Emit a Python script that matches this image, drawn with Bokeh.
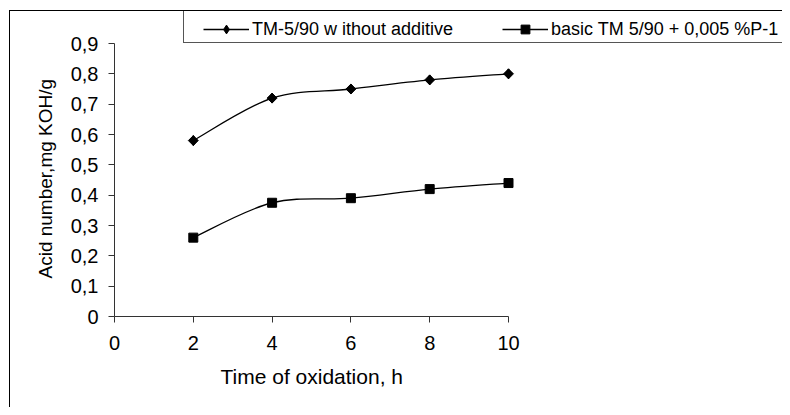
from bokeh.plotting import figure
from bokeh.models import (FixedTicker, CustomJSTickFormatter, Legend, LegendItem,
                          ColumnDataSource, Range1d, Title)
from bokeh.embed import file_html
from bokeh.resources import INLINE

# ---- data ----
hours = [2, 4, 6, 8, 10]
without_additive = [0.58, 0.72, 0.75, 0.78, 0.80]
with_p1 = [0.26, 0.375, 0.39, 0.42, 0.44]
series_names = ["TM-5/90 w ithout additive", "basic TM 5/90 + 0,005 %P-1"]
x_ticks = [0, 2, 4, 6, 8, 10]
y_ticks = [0, 0.1, 0.2, 0.3, 0.4, 0.5, 0.6, 0.7, 0.8, 0.9]
y_tick_labels = ["0", "0,1", "0,2", "0,3", "0,4", "0,5", "0,6", "0,7", "0,8", "0,9"]
x_title = "Time of oxidation, h"
y_title = "Acid number,mg KOH/g"

FONT = "Liberation Sans"


def smooth_segments(xs, ys):
    """Bezier control points for a smoothed line through the data points."""
    n = len(xs)
    d = dict(x0=[], y0=[], x1=[], y1=[], cx0=[], cy0=[], cx1=[], cy1=[])
    for i in range(n - 1):
        xp, yp = (xs[i - 1], ys[i - 1]) if i > 0 else (xs[i], ys[i])
        xn, yn = (xs[i + 2], ys[i + 2]) if i + 2 < n else (xs[i + 1], ys[i + 1])
        d["x0"].append(xs[i]); d["y0"].append(ys[i])
        d["x1"].append(xs[i + 1]); d["y1"].append(ys[i + 1])
        d["cx0"].append(xs[i] + (xs[i + 1] - xp) / 6)
        d["cy0"].append(ys[i] + (ys[i + 1] - yp) / 6)
        d["cx1"].append(xs[i + 1] - (xn - xs[i]) / 6)
        d["cy1"].append(ys[i + 1] - (yn - ys[i]) / 6)
    return ColumnDataSource(d)


# ---- layout (pixels) ----
W, H = 782, 407
AX_LEFT, AX_RIGHT, AX_TOP, AX_BOTTOM = 114, 508, 43, 316   # where 0..10 / 0..0.9 land
X_MAX, Y_MAX = x_ticks[-1], y_ticks[-1]
# the frame reaches the top and right edges so the legend can live inside it
x_end = X_MAX * (W - AX_LEFT) / (AX_RIGHT - AX_LEFT)
y_end = Y_MAX * AX_BOTTOM / (AX_BOTTOM - AX_TOP)

p = figure(width=W, height=H, output_backend="svg", toolbar_location=None,
           x_range=Range1d(0, x_end), y_range=Range1d(0, y_end),
           min_border_left=AX_LEFT, min_border_right=0,
           min_border_top=0, min_border_bottom=H - AX_BOTTOM)
p.outline_line_color = None
p.grid.visible = False
p.background_fill_alpha = 0
p.border_fill_alpha = 0
# chart-area border and legend box (both run off the right/bottom edge)
p.styles = {
    "background": (
        "linear-gradient(#000,#000) 9px 10px / 1px 100% no-repeat,"
        "linear-gradient(#000,#000) 9px 10px / 100% 1px no-repeat,"
        "linear-gradient(#555,#555) 183px 10px / 1px 33px no-repeat,"
        "linear-gradient(#555,#555) 183px 42px / 100% 1px no-repeat,"
        "#ffffff"
    )
}

# lines + markers
b1 = p.bezier(x0="x0", y0="y0", x1="x1", y1="y1", cx0="cx0", cy0="cy0",
              cx1="cx1", cy1="cy1", source=smooth_segments(hours, without_additive),
              line_color="black", line_width=1.3)
m1 = p.scatter(hours, without_additive, marker="diamond", size=10,
               fill_color="black", line_color="black")
# the chart's diamonds are square-ish: a square turned by 45 degrees
p.scatter(hours, without_additive, marker="square", size=7, angle=0.7854,
          fill_color="black", line_color="black")
b2 = p.bezier(x0="x0", y0="y0", x1="x1", y1="y1", cx0="cx0", cy0="cy0",
              cx1="cx1", cy1="cy1", source=smooth_segments(hours, with_p1),
              line_color="black", line_width=1.3)
m2 = p.scatter(hours, with_p1, marker="square", size=9,
               fill_color="black", line_color="black")

# axes
for ax in (p.xaxis[0], p.yaxis[0]):
    ax.axis_line_color = "#333333"
    ax.major_tick_line_color = "#333333"
    ax.major_tick_out = 6
    ax.major_tick_in = 0
    ax.minor_tick_line_color = None
    ax.major_label_text_font = FONT
    ax.major_label_text_font_size = "20px"
    ax.major_label_text_color = "black"

p.xaxis[0].ticker = FixedTicker(ticks=x_ticks)
p.xaxis[0].bounds = (0, X_MAX)
p.xaxis[0].major_label_standoff = 13

p.yaxis[0].ticker = FixedTicker(ticks=y_ticks)
p.yaxis[0].bounds = (0, Y_MAX)
p.yaxis[0].formatter = CustomJSTickFormatter(
    args=dict(tick_vals=y_ticks, tick_labels=y_tick_labels),
    code="const i = tick_vals.findIndex(t => Math.abs(t - tick) < 1e-9); return i >= 0 ? tick_labels[i] : '';")
p.yaxis[0].major_label_standoff = 10

# axis titles (centred on the 0..10 / 0..0.9 spans, not on the wider frame)
p.add_layout(Title(text=x_title, align="left", offset=106, vertical_align="top",
                   standoff=24, text_font=FONT, text_font_size="21px",
                   text_font_style="normal", text_color="black"), "below")
p.add_layout(Title(text=y_title, align="left", offset=38, vertical_align="bottom",
                   standoff=24, text_font=FONT, text_font_size="19px",
                   text_font_style="normal", text_color="black"), "left")

legend = Legend(items=[LegendItem(label=series_names[0], renderers=[b1, m1]),
                       LegendItem(label=series_names[1], renderers=[b2, m2])],
                orientation="horizontal", location=(203 - AX_LEFT, AX_BOTTOM - 40),
                margin=0, padding=5, spacing=10, glyph_width=46, glyph_height=22,
                label_height=22, label_width=240, label_standoff=3,
                label_text_font=FONT, label_text_font_size="18px",
                label_text_color="black", label_text_baseline="middle",
                border_line_color=None, background_fill_alpha=0)
p.add_layout(legend)

open("out.html", "w").write(file_html(p, INLINE))
